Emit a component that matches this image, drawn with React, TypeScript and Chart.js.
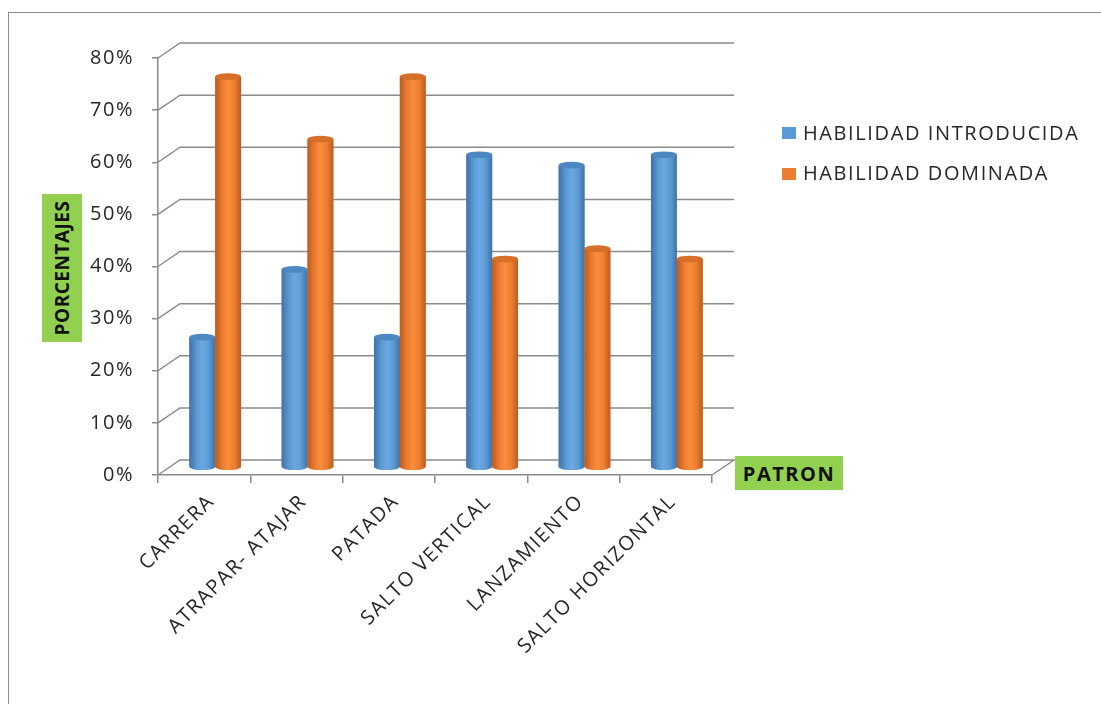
import React, { useEffect, useRef } from "react";
import { Chart, registerables } from "chart.js";

Chart.register(...registerables);

// ---- data ----
const categories = [
  "CARRERA",
  "ATRAPAR- ATAJAR",
  "PATADA",
  "SALTO VERTICAL",
  "LANZAMIENTO",
  "SALTO HORIZONTAL",
];
const introducida = [25, 38, 25, 60, 58, 60];
const dominada = [75, 63, 75, 40, 42, 40];
const seriesNames = ["HABILIDAD INTRODUCIDA", "HABILIDAD DOMINADA"];
const yMin = 0;
const yMax = 80;
const yStep = 10;
const yTitle = "PORCENTAJES";
const xTitle = "PATRON";

// ---- styles ----
const W = 1101;
const H = 704;
const DX = 22;
const DY = -15;
const GRID = "#8a8a8a";
const FONT = "'Open Sans', 'DejaVu Sans', sans-serif";
const TEXT = "#262626";
const GREEN = "#92D050";

const BLUE = { base: "#5B9BD5", dark: "#4172A6", light: "#6CA8E0", top: "#4E88C3" };
const ORANGE = { base: "#ED7D31", dark: "#BC5C1D", light: "#F98E3D", top: "#D76F28" };

function drawCylinder(ctx: CanvasRenderingContext2D, x: number, top: number, base: number, w: number, pal: any) {
  const l = x - w / 2;
  const r = x + w / 2;
  const rx = w / 2;
  const ry = Math.max(2.5, w * 0.13);
  const g = ctx.createLinearGradient(l, 0, r, 0);
  g.addColorStop(0, pal.dark);
  g.addColorStop(0.3, pal.base);
  g.addColorStop(0.5, pal.light);
  g.addColorStop(0.75, pal.base);
  g.addColorStop(1, pal.dark);
  ctx.save();
  ctx.fillStyle = g;
  ctx.beginPath();
  ctx.moveTo(l, top);
  ctx.lineTo(l, base);
  ctx.ellipse(x, base, rx, ry, 0, Math.PI, 0, true);
  ctx.lineTo(r, top);
  ctx.closePath();
  ctx.fill();
  ctx.beginPath();
  ctx.ellipse(x, top, rx, ry, 0, 0, Math.PI * 2);
  ctx.fillStyle = pal.top;
  ctx.fill();
  ctx.restore();
}

const depthPlugin = {
  id: "depth3d",
  beforeUpdate(chart: any) {
    chart.ctx.letterSpacing = "1.5px";
  },
  afterUpdate(chart: any) {
    const xs = chart.scales.x;
    if (xs && !xs.__patched) {
      const orig = xs.drawLabels.bind(xs);
      xs.drawLabels = (area: any) => {
        const c = xs.ctx;
        c.save();
        c.translate(7, 5);
        orig(area);
        c.restore();
      };
      xs.__patched = true;
    }
  },
  beforeDraw(chart: any) {
    chart.ctx.letterSpacing = "1.5px";
  },
  beforeDatasetsDraw(chart: any) {
    const { ctx, chartArea } = chart;
    const y = chart.scales.y;
    ctx.save();
    ctx.strokeStyle = GRID;
    ctx.lineWidth = 1.5;
    y.ticks.forEach((t: any) => {
      const yy = y.getPixelForValue(t.value);
      ctx.beginPath();
      ctx.moveTo(chartArea.left, yy);
      ctx.lineTo(chartArea.left + DX, yy + DY);
      ctx.lineTo(chartArea.right + DX, yy + DY);
      if (t.value === yMin) ctx.lineTo(chartArea.right, yy);
      ctx.stroke();
    });
    ctx.restore();
    ctx.save();
    ctx.translate(DX / 2, DY / 2);
  },
  afterDatasetsDraw(chart: any) {
    const ctx = chart.ctx;
    chart.data.datasets.forEach((_ds: any, i: number) => {
      const meta = chart.getDatasetMeta(i);
      const pal = i === 0 ? BLUE : ORANGE;
      meta.data.forEach((el: any) => {
        const p = el.getProps(["x", "y", "base", "width"], true);
        drawCylinder(ctx, p.x, p.y, p.base, p.width, pal);
      });
    });
    ctx.restore();
  },
};

export default function App() {
  const ref = useRef<HTMLCanvasElement | null>(null);

  useEffect(() => {
    if (!ref.current) return;
    const chart = new Chart(ref.current, {
      type: "bar",
      data: {
        labels: categories,
        datasets: [
          { label: seriesNames[0], data: introducida, backgroundColor: BLUE.base, borderWidth: 0 },
          { label: seriesNames[1], data: dominada, backgroundColor: ORANGE.base, borderWidth: 0 },
        ],
      },
      options: {
        responsive: false,
        animation: false,
        devicePixelRatio: 1,
        categoryPercentage: 0.56,
        barPercentage: 1,
        layout: { padding: { left: 8, top: 58, right: W - 712, bottom: 40 } },
        plugins: {
          legend: { display: false },
          tooltip: { enabled: false },
        },
        scales: {
          x: {
            offset: true,
            grid: {
              offset: true,
              drawOnChartArea: false,
              color: GRID,
              lineWidth: 1.5,
              tickLength: 8,
            },
            border: { color: GRID, width: 1.5 },
            ticks: {
              autoSkip: false,
              maxRotation: 45,
              minRotation: 45,
              color: TEXT,
              font: { family: FONT, size: 20 },
              padding: 2,
            },
            afterFit: (s: any) => {
              s.height = H - 475 - 40;
            },
          },
          y: {
            min: yMin,
            max: yMax,
            ticks: {
              stepSize: yStep,
              callback: (v: any) => v + "%",
              color: TEXT,
              font: { family: FONT, size: 20 },
              padding: 18,
            },
            grid: {
              drawOnChartArea: false,
              color: GRID,
              lineWidth: 1.5,
              tickLength: 6,
            },
            border: { color: GRID, width: 1.5 },
            afterFit: (s: any) => {
              s.width = 150;
            },
          },
        },
      } as any,
      plugins: [depthPlugin as any],
    });
    return () => chart.destroy();
  }, []);

  const box: React.CSSProperties = {
    position: "absolute",
    background: GREEN,
    display: "flex",
    alignItems: "center",
    justifyContent: "center",
    fontFamily: FONT,
    fontWeight: 700,
    color: "#111",
    whiteSpace: "nowrap",
  };

  return (
    <div style={{ position: "fixed", left: 0, top: 0, width: W, height: H, background: "#fff", overflow: "hidden" }}>
      <div
        style={{
          position: "absolute",
          left: 8,
          top: 12,
          width: W,
          height: H,
          borderTop: "1.5px solid #8c8c8c",
          borderLeft: "1.5px solid #8c8c8c",
        }}
      />
      <canvas ref={ref} width={W} height={H} style={{ position: "absolute", left: 0, top: 0, width: W, height: H }} />
      <div style={{ ...box, left: 42, top: 194, width: 40, height: 148 }}>
        <span style={{ transform: "rotate(-90deg)", fontSize: 19, letterSpacing: 0.5, display: "inline-block" }}>{yTitle}</span>
      </div>
      <div style={{ ...box, left: 735, top: 456, width: 108, height: 34, fontSize: 20, letterSpacing: 1.5 }}>{xTitle}</div>
      {seriesNames.map((n, i) => (
        <React.Fragment key={n}>
          <div
            style={{
              position: "absolute",
              left: 782,
              top: i === 0 ? 127 : 168,
              width: 14,
              height: 12,
              background: i === 0 ? BLUE.base : ORANGE.base,
            }}
          />
          <div
            style={{
              position: "absolute",
              left: 803,
              top: i === 0 ? 123 : 163,
              height: 20,
              lineHeight: "20px",
              fontFamily: FONT,
              fontSize: 20,
              letterSpacing: 1.6,
              color: TEXT,
              whiteSpace: "nowrap",
            }}
          >
            {n}
          </div>
        </React.Fragment>
      ))}
    </div>
  );
}
